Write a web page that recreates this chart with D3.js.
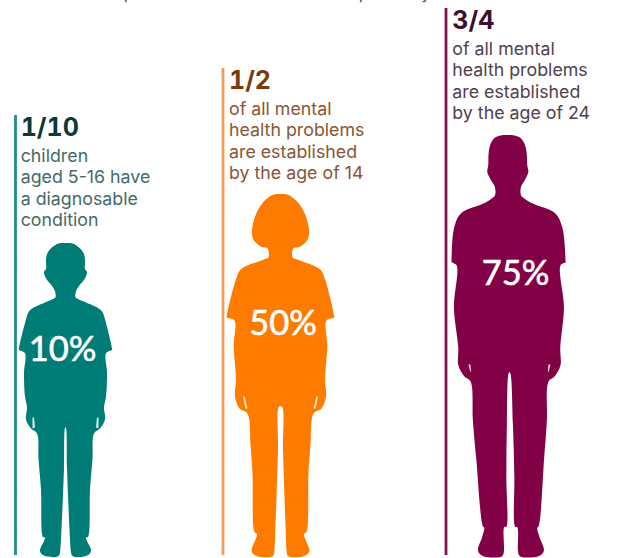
<!DOCTYPE html>
<html>
<head>
<meta charset="utf-8">
<script src="https://cdn.jsdelivr.net/npm/d3@7"></script>
<style>
  html, body { margin: 0; padding: 0; background: #fff; overflow: hidden; }
  svg { display: block; }
  .caption, .fraction, .tail { font-family: Inter, sans-serif; }
  .fraction { font-variant-numeric: tabular-nums; }
  .pct { font-family: Lato, sans-serif; }
</style>
</head>
<body>
<script>
// Share of mental health problems established by age group
const fractions = ["1/10", "1/2", "3/4"];
const captions = [
  ["children", "aged 5-16 have", "a diagnosable", "condition"],
  ["of all mental", "health problems", "are established", "by the age of 14"],
  ["of all mental", "health problems", "are established", "by the age of 24"]
];
const percentValues = [10, 50, 75];
// Stature of each figure relative to the tallest one
const statures = [74.4, 86, 100];
const bodyColors = ["#007c77", "#ff7b00", "#820046"];
const ruleColors = ["#1f8f89", "#f8995a", "#85134f"];
const headColors = ["#0b3a39", "#7b3a0e", "#3b0f2e"];
const textColors = ["#446a69", "#8b5535", "#52404f"];

// Right-hand half outlines, [offset from body axis, depth below crown], in drawing units
const childOutline = [[0,0],[7,0.5],[13,4],[18,10],[19.5,16],[19.5,26],[21.5,29],[19,36],[14,42],[10.5,48],[10,54],[12,55.5],[20,59],[33,65],[37,69],[40,78],[46.5,105],[46.5,106.5],[40.5,110],[41.5,129],[40.5,153],[38.5,164],[39.5,176],[34.5,185],[28.5,190],[27,215],[24.5,246],[22.5,293],[20.5,293.5],[21.5,297],[25,304],[25.5,307],[24,310],[19.5,312.3],[9.5,313],[6.5,311.5],[5.5,308],[4,285],[3,263],[1.5,225],[0.3,184]];
const teenOutline = [[0,0],[8,0.8],[16,6.7],[23.7,18],[28,32],[28.5,40],[26,47],[18,53],[13,54],[12,63],[16,65],[39.5,75],[44.5,85],[53.8,122],[53.8,123],[46,126],[46.8,152],[44.5,185],[45.5,202],[41,214],[33,219],[30,250],[28,278],[26,337],[23.5,339],[26,347],[29,355],[28,358],[23,361.3],[10,362],[7,360.5],[6,355],[5,330],[4,302],[2.5,255],[1.5,212]];
const adultOutline = [[0,0],[7,0.5],[13,3],[17,9],[19,18],[19.5,30],[20.5,37],[17,45],[13,52],[13,60],[16,63],[24,68],[47,78],[54,92],[57,125],[57,127],[52,130],[55,172],[51,212],[51,230],[45,241],[39,246],[37,285],[34,322],[28,390],[26.5,392],[29,402],[33,413],[32,417],[27,420.5],[10.5,421],[8,419],[7,415],[6.5,391],[4.5,391],[4,340],[3,288],[0.5,237]];
const outlines = [childOutline, teenOutline, adultOutline];
const armGaps = [
  [[31.5,174],[33,174],[33,185],[30.5,184]],
  [[36,202],[37.5,202],[35,214],[33,214]],
  [[39,229],[41,229],[39,237],[38.5,235]]
];

// Page layout
const width = 628, height = 558;
const ruleX = [15.5, 223, 446];
const ruleTop = [115, 68, 8];
const ruleBottom = 555;
const textX = [20.7, 229, 452.3];
const axisX = [65.5, 280.5, 507.5];
const axisLean = [0, 0, 3.5];
const groundY = 557;
const crownY = 135;
const fractionY = [136, 89, 29];
const firstLineY = [162, 115, 55];
const lineStep = 21.4;
const percentPos = [[62.5, 361], [283, 335], [515.5, 285]];

const svg = d3.select("body").append("svg").attr("width", width).attr("height", height);

const statureY = d3.scaleLinear().domain([0, 100]).range([groundY, crownY]);

// Descenders of the headline that runs off the top edge
const headlineTails = [["p", 129], ["p", 364], ["y", 426]];
svg.selectAll("text.tail").data(headlineTails).join("text")
  .attr("class", "tail").attr("x", d => d[1]).attr("y", -1)
  .attr("text-anchor", "middle").attr("fill", "#555")
  .attr("font-size", 17).text(d => d[0]);

const groups = svg.selectAll("g.figure").data(fractions).join("g").attr("class", "figure");

groups.each(function (frac, i) {
  const g = d3.select(this);
  const outline = outlines[i];
  const depth = d3.max(outline, p => p[1]);
  const y = d3.scaleLinear().domain([0, depth]).range([statureY(statures[i]), groundY]);
  const lean = d3.scaleLinear().domain([0, depth]).range([axisX[i], axisX[i] + axisLean[i]]);
  const px = (side, p) => lean(p[1]) + side * p[0];

  // Vertical rule beside each block of text
  g.append("line")
    .attr("x1", ruleX[i]).attr("x2", ruleX[i])
    .attr("y1", ruleTop[i]).attr("y2", ruleBottom)
    .attr("stroke", ruleColors[i]).attr("stroke-width", 2.8);

  // Body: down the right half of the outline and back up the mirrored left half
  const ring = outline.map(p => [px(1, p), y(p[1])])
    .concat(outline.slice(1).reverse().map(p => [px(-1, p), y(p[1])]));
  g.append("path")
    .attr("d", d3.line().curve(d3.curveCatmullRomClosed.alpha(0.5))(ring))
    .attr("fill", bodyColors[i]);

  // Slivers of background between arm and hip
  [1, -1].forEach(side => {
    g.append("path")
      .attr("d", d3.line().x(p => px(side, p)).y(p => y(p[1]))(armGaps[i]) + "Z")
      .attr("fill", "#fff").attr("opacity", 0.85);
  });

  g.append("text").attr("class", "fraction")
    .attr("x", textX[i]).attr("y", fractionY[i])
    .attr("fill", headColors[i])
    .attr("font-size", 25).attr("font-weight", "bold")
    .text(frac);

  g.selectAll("text.caption").data(captions[i]).join("text")
    .attr("class", "caption")
    .attr("x", textX[i])
    .attr("y", (d, k) => firstLineY[i] + k * lineStep)
    .attr("fill", textColors[i])
    .attr("font-size", 17.8)
    .text(d => d);

  g.append("text").attr("class", "pct")
    .attr("x", percentPos[i][0]).attr("y", percentPos[i][1])
    .attr("text-anchor", "middle")
    .attr("fill", "#fff").attr("stroke", "#fff").attr("stroke-width", 0.6)
    .attr("font-size", 34.5)
    .text(d3.format("d")(percentValues[i]) + "%");
});
</script>
</body>
</html>
